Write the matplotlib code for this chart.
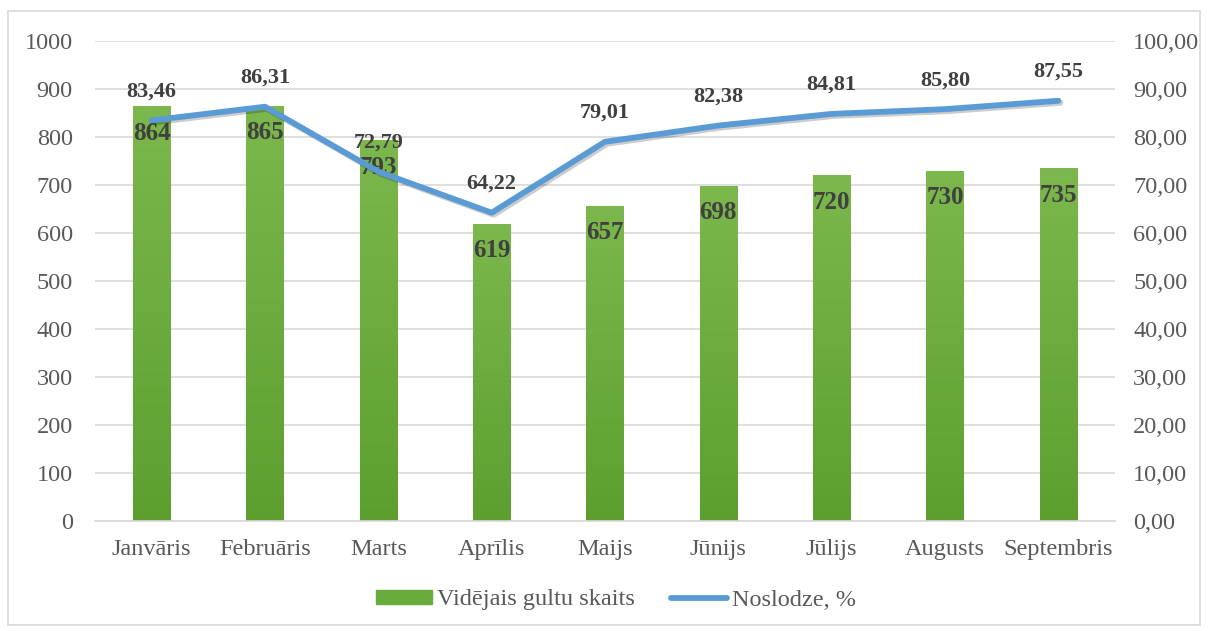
import matplotlib
matplotlib.use("Agg")
import matplotlib.pyplot as plt
import numpy as np
from matplotlib import patheffects as pe
from matplotlib.patches import Rectangle, Patch
from matplotlib.lines import Line2D
from matplotlib.colors import LinearSegmentedColormap

months = ["Janvāris", "Februāris", "Marts", "Aprīlis", "Maijs", "Jūnijs", "Jūlijs", "Augusts", "Septembris"]
beds = [864, 865, 793, 619, 657, 698, 720, 730, 735]
load = [83.46, 86.31, 72.79, 64.22, 79.01, 82.38, 84.81, 85.80, 87.55]
left_ticks = [0, 100, 200, 300, 400, 500, 600, 700, 800, 900, 1000]
right_ticks = [0, 10, 20, 30, 40, 50, 60, 70, 80, 90, 100]

plt.rcParams['font.family'] = ['Liberation Serif', 'DejaVu Serif']

fig = plt.figure(figsize=(12.09, 6.31), dpi=100)
fig.patches.append(Rectangle((8/1209, 1-625/631), (1200-8)/1209, (625-11)/631,
                             transform=fig.transFigure, fill=False, edgecolor='#d9d9d9', lw=1.2))
ax = fig.add_axes([95/1209, 1-521/631, 1020/1209, 480/631])
ax2 = ax.twinx()

x = np.arange(len(months))
bars = ax.bar(x, beds, width=0.33, color='#6aab3e', zorder=2)
grad = np.linspace(0, 1, 256).reshape(-1, 1)
cmap = LinearSegmentedColormap.from_list('g', ['#5c9f2f', '#7cb84d'])
for b in bars:
    bx, by = b.get_x(), b.get_y()
    w, h = b.get_width(), b.get_height()
    im = ax.imshow(grad, cmap=cmap, aspect='auto', extent=[bx, bx + w, by, by + h],
                   origin='lower', zorder=2.1)
    im.set_clip_path(b)

ax.set_xlim(-0.5, len(months) - 0.5)
ax.set_ylim(0, 1000)
ax.set_yticks(left_ticks)
ax.set_xticks(x)
ax.set_xticklabels(months)
ax.grid(axis='y', color='#d9d9d9', lw=1.2, zorder=0)
ax.set_axisbelow(True)
for s in ['top', 'left', 'right']:
    ax.spines[s].set_visible(False)
ax.spines['bottom'].set_color('#d9d9d9')
ax.spines['bottom'].set_linewidth(1.2)
ax.tick_params(axis='both', length=0, colors='#595959', labelsize=17.5)
ax.tick_params(axis='y', pad=16)
ax.tick_params(axis='x', pad=13)

for xi, v in zip(x, beds):
    ax.annotate(f"{v}", (xi, v), xytext=(0, -27), textcoords='offset pixels',
                ha='center', va='center', fontsize=18, fontweight='bold', color='#404040', zorder=5)

ax2.set_ylim(0, 100)
ax2.set_yticks(right_ticks)
ax2.set_yticklabels([f"{t:.2f}".replace('.', ',') for t in right_ticks])
ax2.tick_params(axis='y', length=0, colors='#595959', labelsize=17.5, pad=13)
for s in ['top', 'left', 'right', 'bottom']:
    ax2.spines[s].set_visible(False)
ax2.plot(x, load, color='#5b9bd5', lw=4.2, solid_capstyle='round', solid_joinstyle='round', zorder=4,
         path_effects=[pe.SimpleLineShadow(offset=(1.5, -1.5), alpha=0.2), pe.Normal()])
for xi, v in zip(x, load):
    ax2.annotate(f"{v:.2f}".replace('.', ','), (xi, v), xytext=(0, 29), textcoords='offset pixels',
                 ha='center', va='center', fontsize=16, fontweight='bold', color='#404040', zorder=5)

handles = [Patch(color='#6aab3e'), Line2D([0], [0], color='#5b9bd5', lw=4.2, solid_capstyle='round')]
fig.legend(handles, ["Vidējais gultu skaits", "Noslodze, %"], loc='center', bbox_to_anchor=(616/1209, 1-600/631),
           ncol=2, frameon=False, fontsize=17.5, labelcolor='#595959', handlelength=2.3, handleheight=0.5,
           columnspacing=1.5, handletextpad=0.2)

fig.savefig("out.png", dpi=100)
